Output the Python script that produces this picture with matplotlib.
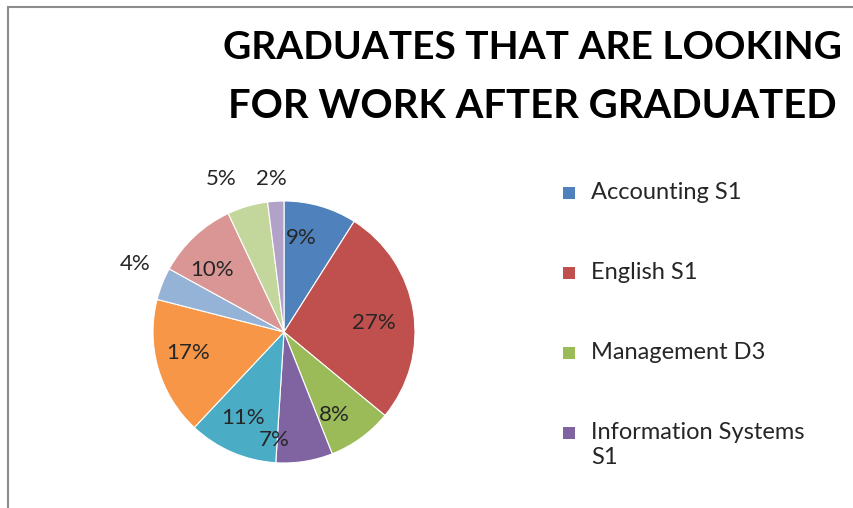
import matplotlib.pyplot as plt
import numpy as np
from matplotlib.patches import Rectangle

plt.rcParams['font.family'] = ['Lato', 'DejaVu Sans']

programs = ['Accounting S1', 'English S1', 'Management D3', 'Information Systems\nS1',
            'Program 5', 'Program 6', 'Program 7', 'Program 8', 'Program 9', 'Program 10']
shares = [9, 27, 8, 7, 11, 17, 4, 10, 5, 2]
colors = ['#4F81BD', '#C0504D', '#9BBB59', '#8064A2', '#4BACC6',
          '#F79646', '#95B3D7', '#D99694', '#C3D69B', '#B3A2C7']
# percent label placement: distance (fraction of radius) and angular nudge (degrees)
label_dist = [0.73, 0.69, 0.74, 0.83, 0.73, 0.75, 1.25, 0.73, 1.26, 1.17]
label_nudge = [6, -3, -5, -14, -2, -4, -3, 6, 6, 1]

fig = plt.figure(figsize=(8.54, 5.08), dpi=100)
fig.patches.append(Rectangle((8 / 854, -0.1), 1.2, 1 - 7 / 508 + 0.1, transform=fig.transFigure,
                             fill=False, edgecolor='#8c8c8c', linewidth=1.5))

fig.text(0.623, 0.907, 'GRADUATES THAT ARE LOOKING', ha='center', va='center',
         fontsize=28, fontweight='bold', color='black')
fig.text(0.623, 0.79, 'FOR WORK AFTER GRADUATED', ha='center', va='center',
         fontsize=28.8, fontweight='bold', color='black')

r_px = 131
ax = fig.add_axes([(284 - r_px) / 854, (508 - 332 - r_px) / 508, 2 * r_px / 854, 2 * r_px / 508])
wedges, _ = ax.pie(shares, colors=colors, startangle=90, counterclock=False,
                   wedgeprops=dict(linewidth=0.8, edgecolor='white'))
ax.set_xlim(-1, 1)
ax.set_ylim(-1, 1)
ax.set_aspect('equal')

total = sum(shares)
for w, v, d, n in zip(wedges, shares, label_dist, label_nudge):
    ang = np.deg2rad((w.theta1 + w.theta2) / 2 + n)
    ax.text(d * np.cos(ang), d * np.sin(ang), f'{round(100 * v / total)}%',
            ha='center', va='center', fontsize=16, color='#262626', clip_on=False)

# legend (only the first four entries fit in the chart area)
for i in range(4):
    y = 1 - (193 + 80 * i) / 508
    fig.patches.append(Rectangle((563 / 854, y - 6 / 508), 12 / 854, 12 / 508,
                                 transform=fig.transFigure, facecolor=colors[i], edgecolor='none'))
    fig.text(591 / 854, y + 11 / 508, programs[i], ha='left', va='top', fontsize=17,
             color='#262626', linespacing=1.25)

fig.savefig('out.png', dpi=100)
